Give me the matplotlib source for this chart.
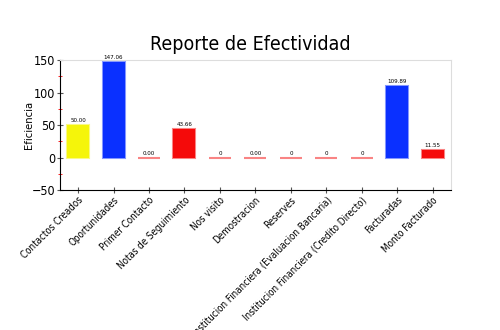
import numpy as np
import matplotlib.pyplot as plt
from matplotlib.ticker import MultipleLocator

# Datos del reporte
categorias = ['Contactos Creados', 'Oportunidades', 'Primer Contacto',
              'Notas de Seguimiento', 'Nos visito', 'Demostracion', 'Reserves',
              'Institucion Financiera (Evaluacion Bancaria)',
              'Institucion Financiera (Credito Directo)', 'Facturadas',
              'Monto Facturado']
valores = [50.00, 147.06, 0.00, 43.66, 0, 0.00, 0, 0, 0, 109.89, 11.55]
etiquetas = ['50.00', '147.06', '0.00', '43.66', '0', '0.00', '0', '0', '0',
             '109.89', '11.55']
colores = ['#f5f50a', '#0a30ff', '#f50a0a', '#f50a0a', '#f50a0a', '#f50a0a',
           '#f50a0a', '#f50a0a', '#f50a0a', '#0a30ff', '#f50a0a']

plt.rcParams['font.family'] = ['DejaVu Sans']
plt.rcParams['font.stretch'] = 'condensed'

fig = plt.figure(figsize=(5, 3.3), dpi=100)
ax = fig.add_axes([0.1206, 0.424, 0.7806, 0.394])

x = np.arange(len(categorias))
bars = ax.bar(x, valores, width=0.62, color=colores, linewidth=1.5,
              edgecolor=[c + '80' for c in colores])

for b, t in zip(bars, etiquetas):
    ax.text(b.get_x() + b.get_width() / 2, b.get_height() + 3, t,
            ha='center', va='bottom', fontsize=4.5)

ax.set_xlim(-0.5, 10.5)
ax.set_ylim(-50, 150)
ax.yaxis.set_major_locator(MultipleLocator(50))
ax.yaxis.set_minor_locator(MultipleLocator(25))
ax.tick_params(axis='y', which='major', direction='inout', length=5,
               color='#555555', labelsize=9, pad=1)
ax.tick_params(axis='y', which='minor', direction='inout', length=3,
               color='red')
ax.tick_params(axis='x', direction='inout', length=5, color='#555555', pad=1)

ax.set_xticks(x)
ax.set_xticklabels(categorias, rotation=45, ha='right', rotation_mode='anchor',
                   fontsize=7)
ax.set_ylabel('Eficiencia', fontsize=8)
ax.yaxis.set_label_coords(-0.067, 0.5)

for s in ['top', 'right']:
    ax.spines[s].set_color('#dddddd')
    ax.spines[s].set_linewidth(0.8)

fig.suptitle('Reporte de Efectividad', x=0.5, y=0.895, fontsize=14)

fig.savefig('out.png', dpi=100)
